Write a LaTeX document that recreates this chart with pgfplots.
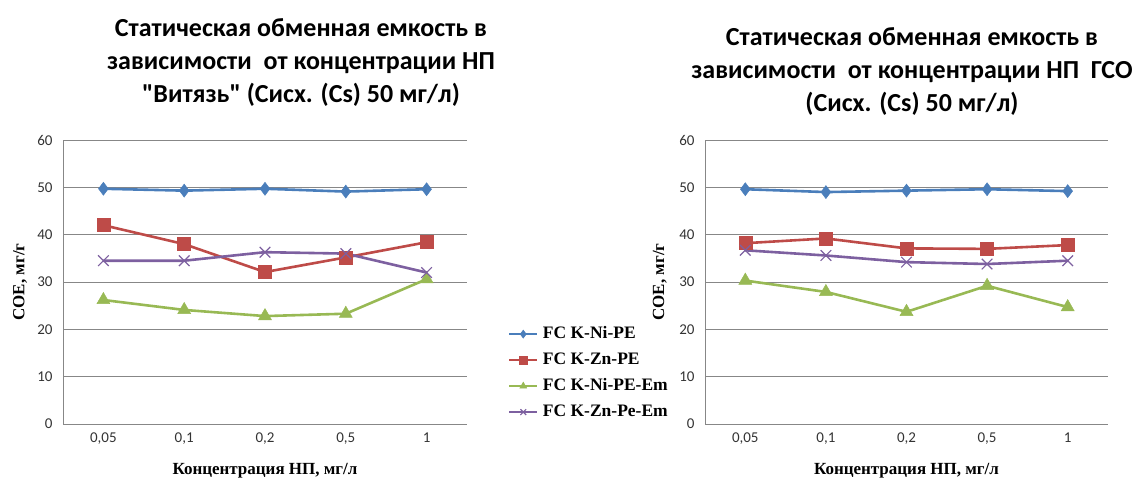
\documentclass[border=0pt]{standalone}
\usepackage{fontspec}
\setmainfont{Carlito}
\newfontfamily\titlefont{Carlito}[Ligatures=ResetAll]
\newfontfamily\tnr{Liberation Serif}
\usepackage{pgfplots}
\usepackage{pgfplotstable}
\pgfplotsset{compat=1.18}

\definecolor{cblue}{HTML}{4A7EBB}
\definecolor{cred}{HTML}{BE4B48}
\definecolor{cgreen}{HTML}{98B954}
\definecolor{cpurple}{HTML}{7D60A0}
\definecolor{cgrid}{HTML}{878787}

% x = 0..4 -> 0,05 0,1 0,2 0,5 1
\pgfplotstableread{
x ni zn niem znem
0 49.7 42.0 26.2 34.5
1 49.3 38.0 24.1 34.5
2 49.7 32.1 22.8 36.3
3 49.1 35.2 23.3 36.0
4 49.6 38.4 30.6 32.0
}\vityaz

\pgfplotstableread{
x ni zn niem znem
0 49.6 38.2 30.3 36.7
1 49.0 39.2 27.9 35.6
2 49.3 37.1 23.7 34.2
3 49.6 37.0 29.2 33.8
4 49.2 37.8 24.7 34.5
}\gso

\pgfplotsset{
  coe/.style={
    scale only axis, anchor=south west,
    height=284pt,
    xmin=-0.5, xmax=4.5, ymin=0, ymax=60,
    xtick={0,...,4}, xticklabels={0{,}05,0{,}1,0{,}2,0{,}5,1},
    ytick={0,10,...,60},
    axis x line*=bottom, axis y line*=left,
    axis line style={cgrid,-},
    ymajorgrids, grid style={cgrid, line width=0.8pt},
    tick style={draw=none},
    ticklabel style={font=\fontsize{15}{17}\selectfont, text=black!80},
    yticklabel style={xshift=-7pt},
    xticklabel style={yshift=-5pt},
    /pgf/number format/assume math mode=true,
    clip=false,
    every axis x label/.style={at={(axis description cs:0.5,-0.165)}, anchor=center},
    xlabel={\tnr\bfseries\fontsize{17}{19}\selectfont Концентрация НП, мг/л},
    ylabel={\tnr\bfseries\fontsize{17}{19}\selectfont COE, мг/г},
  },
  sb/.style={cblue, line width=2.6pt, mark=diamond*, mark size=6.5pt, mark options={line width=0.5pt}},
  sr/.style={cred, line width=2.6pt, mark=square*, mark size=6.5pt, mark options={line width=0.5pt}},
  sg/.style={cgreen, line width=2.6pt, mark=triangle*, mark size=7.5pt, mark options={line width=0.5pt}},
  sp/.style={cpurple, line width=2.6pt, mark=x, mark size=7.5pt, mark options={line width=1.2pt}},
}

\begin{document}
\begin{tikzpicture}[x=1pt,y=1pt]
\useasboundingbox (0,0) rectangle (1144,477);

\node[align=center, font=\titlefont\bfseries\fontsize{26}{33}\selectfont] at (301,414)
  {Статическая обменная емкость в\\зависимости\ \ от концентрации НП\\"Витязь" (Сисх. (Cs) 50 мг/л)};
\node[align=center, font=\titlefont\bfseries\fontsize{26}{33}\selectfont] at (912,405)
  {Статическая обменная емкость в\\зависимости\ \ от концентрации НП\ \ ГСО\\(Сисх. (Cs) 50 мг/л)};

\begin{axis}[coe, at={(63pt,53pt)}, width=404pt,
  every axis y label/.style={at={(axis description cs:-0.106,0.5)}, rotate=90, anchor=center},
  legend style={at={(axis description cs:1.094,0.37)}, anchor=north west, draw=none, fill=none,
    font=\tnr\bfseries\fontsize{17.5}{20}\selectfont, row sep=0pt,
    nodes={text height=13pt, text depth=4pt, inner sep=4.5pt},
    legend cell align=left},
  legend image code/.code={\draw[#1, line width=2.2pt] (0pt,0pt) -- (28pt,0pt) plot[mark size=4pt] coordinates {(14pt,0pt)};},
]
\addplot[sb] table[x=x,y=ni] {\vityaz};
\addlegendentry{FC K-Ni-PE}
\addplot[sr] table[x=x,y=zn] {\vityaz};
\addlegendentry{FC K-Zn-PE}
\addplot[sg] table[x=x,y=niem] {\vityaz};
\addlegendentry{FC K-Ni-PE-Em}
\addplot[sp] table[x=x,y=znem] {\vityaz};
\addlegendentry{FC K-Zn-Pe-Em}
\end{axis}

\begin{axis}[coe, at={(705pt,53pt)}, width=403pt,
  every axis y label/.style={at={(axis description cs:-0.112,0.5)}, rotate=90, anchor=center},
]
\addplot[sb] table[x=x,y=ni] {\gso};
\addplot[sr] table[x=x,y=zn] {\gso};
\addplot[sg] table[x=x,y=niem] {\gso};
\addplot[sp] table[x=x,y=znem] {\gso};
\end{axis}
\end{tikzpicture}
\end{document}
